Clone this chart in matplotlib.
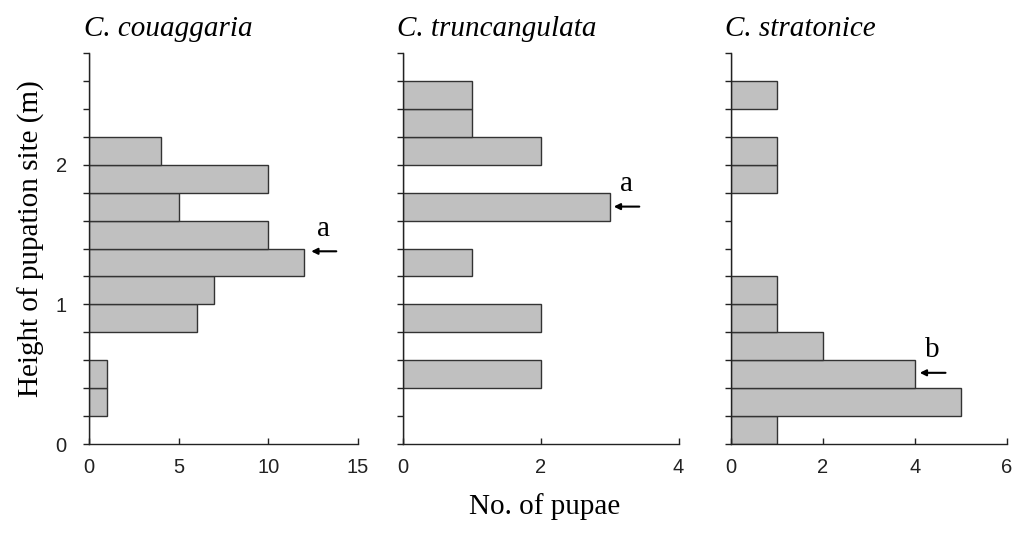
import numpy as np
import matplotlib
matplotlib.use('Agg')
import matplotlib.pyplot as plt

# height bins (lower edge, m) and pupae counts per species
bin_edges = np.round(np.arange(0, 2.8, 0.2), 1)

species = ['C. couaggaria', 'C. truncangulata', 'C. stratonice']

counts_couaggaria = [0, 1, 1, 0, 6, 7, 12, 10, 5, 10, 4, 0, 0, 0]
counts_truncangulata = [0, 0, 2, 0, 2, 0, 1, 0, 3, 0, 2, 1, 1, 0]
counts_stratonice = [1, 5, 4, 2, 1, 1, 0, 0, 0, 1, 1, 0, 1, 0]

xmax = [15, 4, 6]
xticks = [[0, 5, 10, 15], [0, 2, 4], [0, 2, 4, 6]]

# median markers: (label, height, arrow head x, arrow tail x)
marks = [('a', 1.38, 12.4, 13.8), ('a', 1.70, 3.06, 3.43), ('b', 0.51, 4.11, 4.67)]

serif = ['Liberation Serif', 'DejaVu Serif']
sans = ['Liberation Sans', 'DejaVu Sans']

fig = plt.figure(figsize=(10.22, 5.35), dpi=100)
lefts = [0.0871, 0.394, 0.715]
widths = [0.263, 0.270, 0.270]

all_counts = [counts_couaggaria, counts_truncangulata, counts_stratonice]
for i in range(3):
    ax = fig.add_axes([lefts[i], 0.170, widths[i], 0.731])
    ax.barh(bin_edges, all_counts[i], height=0.2, align='edge',
            color='#c0c0c0', edgecolor='#333333', linewidth=1.0)
    ax.set_xlim(0, xmax[i])
    ax.set_ylim(0, 2.8)
    ax.spines['top'].set_visible(False)
    ax.spines['right'].set_visible(False)
    for s in ['left', 'bottom']:
        ax.spines[s].set_color('#222222')
        ax.spines[s].set_linewidth(1.0)
    ax.set_xticks(xticks[i])
    ax.set_yticks([0, 1, 2])
    ax.set_yticks(np.arange(0, 2.81, 0.2), minor=True)
    ax.tick_params(axis='y', which='both', direction='out', length=4, width=1,
                   color='#222222', pad=12)
    ax.tick_params(axis='x', direction='in', length=4, width=1, color='#222222', pad=10)
    for lab in ax.get_xticklabels() + ax.get_yticklabels():
        lab.set_family(sans)
        lab.set_fontsize(14.5)
        lab.set_color('#222222')
    if i > 0:
        ax.set_yticklabels([])
    ax.set_title(species[i], loc='left', family=serif, style='italic',
                 fontsize=21, pad=12, x=-0.02)
    lab, yy, xh, xt = marks[i]
    ax.annotate('', xy=(xh, yy), xytext=(xt, yy),
                arrowprops=dict(arrowstyle='-|>', color='black', lw=1.5,
                                mutation_scale=9, shrinkA=0, shrinkB=0),
                annotation_clip=False)
    ax.text((xh + xt) / 2, yy + 0.07, lab, family=serif, fontsize=21,
            ha='center', va='bottom')
    if i == 0:
        ax.set_ylabel('Height of pupation site (m)', family=serif, fontsize=21)
        ax.yaxis.set_label_coords(-0.165, 0.525)

fig.text(0.533, 0.028, 'No. of pupae', family=serif, fontsize=21, ha='center', va='bottom')

fig.savefig('out.png', dpi=100)
